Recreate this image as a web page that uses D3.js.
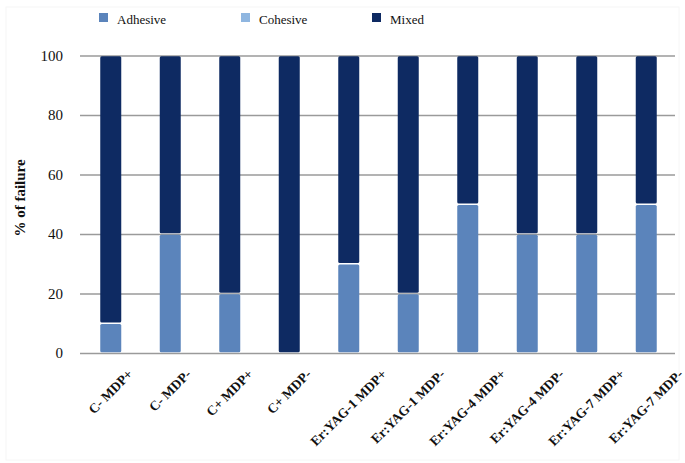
<!DOCTYPE html>
<html>
<head>
<meta charset="utf-8">
<script src="https://cdn.jsdelivr.net/npm/d3@7/dist/d3.min.js"></script>
<style>
  html, body { margin: 0; padding: 0; background: #fff; }
  svg { display: block; }
  svg text { font-family: "Liberation Serif", "DejaVu Serif", serif; }
</style>
</head>
<body>
<svg id="chart" width="685" height="463"></svg>
<script>
const categories = ["C- MDP+", "C- MDP-", "C+ MDP+", "C+ MDP-", "Er:YAG-1 MDP+", "Er:YAG-1 MDP-", "Er:YAG-4 MDP+", "Er:YAG-4 MDP-", "Er:YAG-7 MDP+", "Er:YAG-7 MDP-"];
const seriesNames = ["Adhesive", "Cohesive", "Mixed"];
const adhesive = [10, 40, 20, 0, 30, 20, 50, 40, 40, 50];
const cohesive = [0, 0, 0, 0, 0, 0, 0, 0, 0, 0];
const mixed = [90, 60, 80, 100, 70, 80, 50, 60, 60, 50];
const yTicks = [0, 20, 40, 60, 80, 100];
const colors = ["#5b84bb", "#8fb6e0", "#0e2a62"];

const svg = d3.select("#chart");
const plotLeft = 81, plotRight = 676, plotTop = 55.5, plotBottom = 353;
const FONT = "'Liberation Serif', 'DejaVu Serif', serif";

const x = d3.scaleBand().domain(categories).range([plotLeft, plotRight]).paddingInner(0.64).paddingOuter(0.32);
const y = d3.scaleLinear().domain([0, 100]).range([plotBottom, plotTop]);

// faint frame
svg.append("rect").attr("x", 6).attr("y", 7).attr("width", 673).attr("height", 453)
  .attr("fill", "none").attr("stroke", "#f6f6f6").attr("stroke-width", 1);

// gridlines via axis
const yAxis = d3.axisLeft(y).tickValues(yTicks).tickSize(-(plotRight - plotLeft)).tickPadding(17);
const gy = svg.append("g").attr("transform", `translate(${plotLeft - 1},0)`).call(yAxis);
gy.attr("font-family", null).attr("font-size", null);
gy.select(".domain").remove();
gy.selectAll(".tick line").attr("stroke", "#9a9a9a").attr("stroke-width", 1.6);
gy.selectAll(".tick text").style("font-family", FONT).style("font-size", "15px").attr("fill", "#111");

// stacked data
const rows = categories.map((c, i) => ({ cat: c, Adhesive: adhesive[i], Cohesive: cohesive[i], Mixed: mixed[i] }));
const stack = d3.stack().keys(seriesNames)(rows);

const bw = 21;
svg.append("g").selectAll("g").data(stack).join("g")
  .attr("fill", (d, i) => colors[i])
  .selectAll("rect").data(d => d.filter(s => s[1] - s[0] > 0)).join("rect")
  .attr("x", d => x(d.data.cat) + x.bandwidth() / 2 - bw / 2)
  .attr("width", bw)
  .attr("y", d => y(d[1]) + 0.8)
  .attr("height", d => Math.max(0, y(d[0]) - y(d[1]) - 1.6))
  .attr("rx", 1.5);

// x labels: centred on the bar, with their upper-right ends on a common line
const xl = svg.append("g");
categories.forEach(c => {
  const cx = x(c) + x.bandwidth() / 2;
  const t = xl.append("text")
    .attr("text-anchor", "middle")
    .style("font-family", FONT)
    .style("font-weight", "bold")
    .style("font-size", "13.5px")
    .attr("fill", "#111")
    .text(c);
  const L = t.node().getComputedTextLength();
  t.attr("transform", `translate(${cx + 3},${375 + L * 0.3536}) rotate(-45)`);
});

// y label
svg.append("text")
  .attr("transform", `translate(25,198) rotate(-90)`)
  .attr("text-anchor", "middle")
  .style("font-family", FONT)
  .style("font-weight", "bold")
  .style("font-size", "15px")
  .attr("fill", "#111")
  .text("% of failure");

// legend
const legX = [99, 241, 372];
const lg = svg.append("g");
seriesNames.forEach((s, i) => {
  lg.append("rect").attr("x", legX[i]).attr("y", 13).attr("width", 9).attr("height", 9).attr("fill", colors[i]);
  lg.append("text").attr("x", legX[i] + 18).attr("y", 23.5)
    .style("font-family", FONT).style("font-size", "13px").attr("fill", "#111").text(s);
});
</script>
</body>
</html>
